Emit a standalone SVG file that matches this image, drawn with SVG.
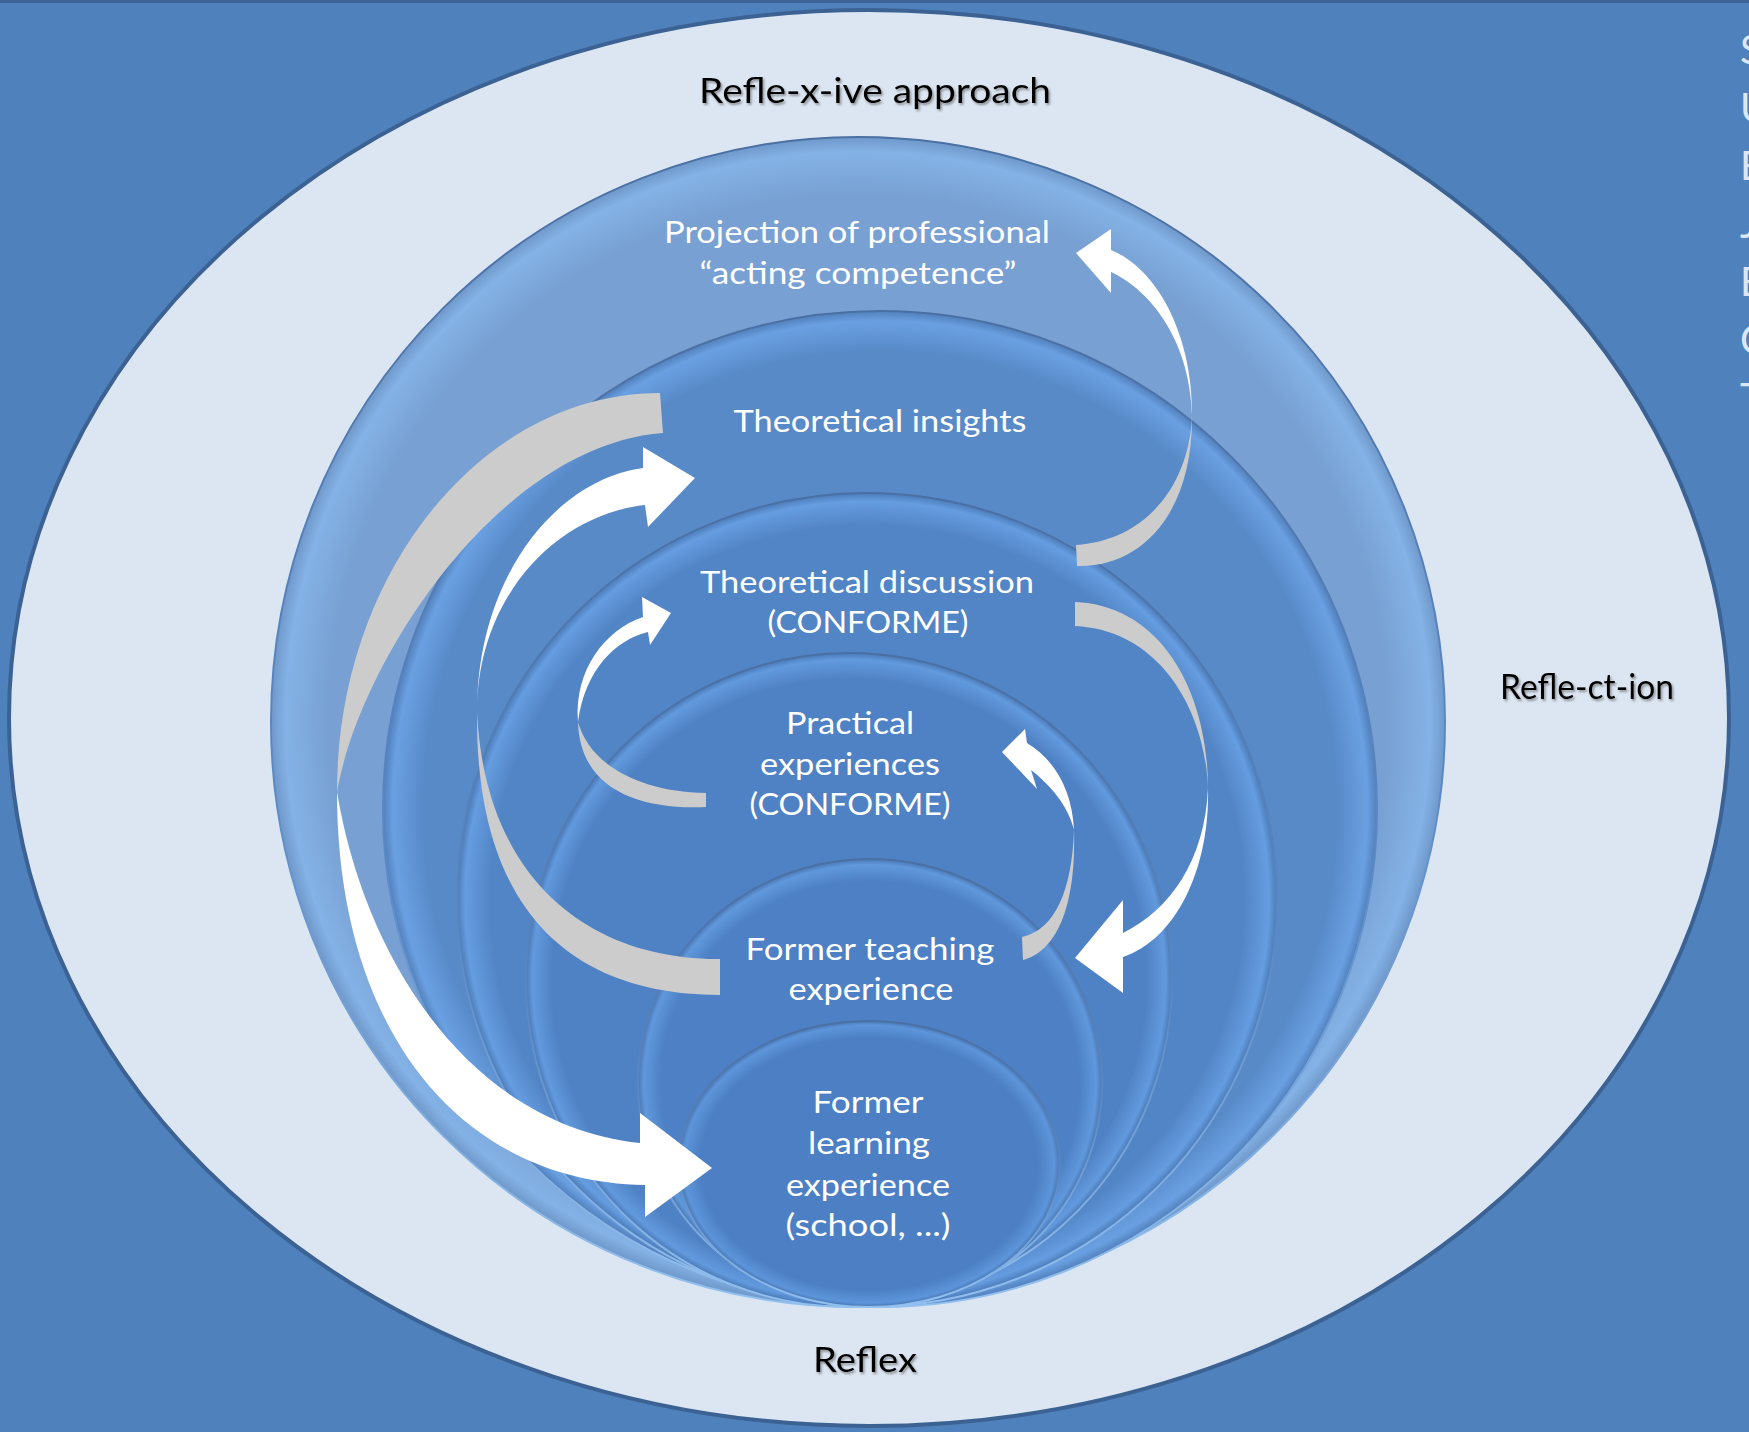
<svg xmlns="http://www.w3.org/2000/svg" width="1749" height="1432" viewBox="0 0 1749 1432">
<defs>
<style>
.wt{font-family:Lato,"Open Sans","DejaVu Sans",sans-serif;font-size:31px;fill:#ffffff;text-anchor:middle}
.bt{font-family:Lato,"Open Sans","DejaVu Sans",sans-serif;font-size:35px;fill:#000000;text-anchor:middle;filter:url(#tsh)}
.edge{font-family:Lato,"Open Sans","DejaVu Sans",sans-serif;font-size:40px;fill:#dce6f2}
.ring{stroke:url(#rimStroke);stroke-width:2}
.grey{fill:#cccccc}
.white{fill:#ffffff}
</style>
<filter id="tsh" x="-10%" y="-30%" width="120%" height="160%">
<feDropShadow dx="1.5" dy="2" stdDeviation="1.3" flood-color="#4a4a4a" flood-opacity="0.55"/>
</filter>
<linearGradient id="rimStroke" x1="0" y1="0" x2="0" y2="1">
<stop offset="0" stop-color="#4a6fa3"/>
<stop offset="0.55" stop-color="#5b89c4"/>
<stop offset="1" stop-color="#92c0ef"/>
</linearGradient>
<radialGradient id="gProj" cx="0.5" cy="0.5" r="0.5">
<stop offset="0" stop-color="#7aa1d3"/>
<stop offset="0.9" stop-color="#78a0d2"/>
<stop offset="0.975" stop-color="#84b2e6"/>
<stop offset="1" stop-color="#6f98ca"/>
</radialGradient>
<radialGradient id="gIns" cx="0.5" cy="0.5" r="0.5">
<stop offset="0" stop-color="#588ac8"/>
<stop offset="0.92" stop-color="#588ac8"/>
<stop offset="0.98" stop-color="#6aa0e2"/>
<stop offset="1" stop-color="#5280bb"/>
</radialGradient>
<radialGradient id="gDisc" cx="0.5" cy="0.5" r="0.5">
<stop offset="0" stop-color="#5285c6"/>
<stop offset="0.92" stop-color="#5285c6"/>
<stop offset="0.98" stop-color="#659de0"/>
<stop offset="1" stop-color="#4c7bb8"/>
</radialGradient>
<radialGradient id="gPrac" cx="0.5" cy="0.5" r="0.5">
<stop offset="0" stop-color="#4f82c4"/>
<stop offset="0.92" stop-color="#4f82c4"/>
<stop offset="0.98" stop-color="#629ade"/>
<stop offset="1" stop-color="#4a79b6"/>
</radialGradient>
<radialGradient id="gTeach" cx="0.5" cy="0.5" r="0.5">
<stop offset="0" stop-color="#4d80c4"/>
<stop offset="0.9" stop-color="#4d80c4"/>
<stop offset="0.975" stop-color="#6098dc"/>
<stop offset="1" stop-color="#4977b4"/>
</radialGradient>
<radialGradient id="gLearn" cx="0.5" cy="0.5" r="0.5">
<stop offset="0" stop-color="#4c7fc3"/>
<stop offset="0.88" stop-color="#4c7fc3"/>
<stop offset="0.97" stop-color="#5d95da"/>
<stop offset="1" stop-color="#4876b3"/>
</radialGradient>
</defs>

<rect x="0" y="0" width="1749" height="1432" fill="#4f81bd"/>
<rect x="0" y="0" width="1749" height="3" fill="#3d6597"/>

<g id="node-reflexive-approach">
<ellipse cx="869" cy="718" rx="860" ry="708" fill="#dce6f2" stroke="#3b6293" stroke-width="4"/>
<text class="bt" x="875" y="103" textLength="352" lengthAdjust="spacingAndGlyphs">Refle-x-ive approach</text>
<text class="bt" x="1587" y="699" textLength="174" lengthAdjust="spacingAndGlyphs">Refle-ct-ion</text>
<text class="bt" x="865" y="1372" textLength="104" lengthAdjust="spacingAndGlyphs">Reflex</text>
</g>

<g id="node-projection">
<ellipse class="ring" cx="858" cy="722" rx="587" ry="585" fill="url(#gProj)"/>
<text class="wt" x="857" y="243" textLength="386" lengthAdjust="spacingAndGlyphs">Projection of professional</text>
<text class="wt" x="858" y="284" textLength="317" lengthAdjust="spacingAndGlyphs">“acting competence”</text>
</g>

<g id="node-theoretical-insights">
<ellipse class="ring" cx="880" cy="809" rx="497" ry="498" fill="url(#gIns)"/>
<text class="wt" x="880" y="432" textLength="293" lengthAdjust="spacingAndGlyphs">Theoretical insights</text>
</g>

<g id="node-theoretical-discussion">
<ellipse class="ring" cx="867" cy="900" rx="410" ry="407" fill="url(#gDisc)"/>
<text class="wt" x="867" y="593" textLength="334" lengthAdjust="spacingAndGlyphs">Theoretical discussion</text>
<text class="wt" x="868" y="633" textLength="201" lengthAdjust="spacingAndGlyphs">(CONFORME)</text>
</g>

<g id="node-practical-experiences">
<ellipse class="ring" cx="849" cy="980" rx="323" ry="327" fill="url(#gPrac)"/>
<text class="wt" x="850" y="734" textLength="128" lengthAdjust="spacingAndGlyphs">Practical</text>
<text class="wt" x="850" y="775" textLength="180" lengthAdjust="spacingAndGlyphs">experiences</text>
<text class="wt" x="850" y="815" textLength="201" lengthAdjust="spacingAndGlyphs">(CONFORME)</text>
</g>

<g id="node-former-teaching">
<ellipse class="ring" cx="870" cy="1083" rx="232" ry="224" fill="url(#gTeach)"/>
<text class="wt" x="870" y="960" textLength="249" lengthAdjust="spacingAndGlyphs">Former teaching</text>
<text class="wt" x="871" y="1000" textLength="165" lengthAdjust="spacingAndGlyphs">experience</text>
</g>

<g id="node-former-learning">
<ellipse class="ring" cx="869" cy="1164" rx="191" ry="143" fill="url(#gLearn)"/>
<text class="wt" x="868" y="1113" textLength="111" lengthAdjust="spacingAndGlyphs">Former</text>
<text class="wt" x="869" y="1154" textLength="122" lengthAdjust="spacingAndGlyphs">learning</text>
<text class="wt" x="868" y="1196" textLength="164" lengthAdjust="spacingAndGlyphs">experience</text>
<text class="wt" x="868" y="1236" textLength="165" lengthAdjust="spacingAndGlyphs">(school, ...)</text>
</g>

<g id="connectors">
<path class="grey" d="M660,393 C482,393 337,573 337,792 C360,660 500,445 663,433 Z"/>
<path class="white" d="M337,792 C337,1030 460,1182 645,1185 L645,1217 L712,1168 L640,1113 L640,1143 C470,1125 365,960 337,792 Z"/>
<path class="grey" d="M720,995 C590,995 475,930 477,712 C485,880 590,960 720,959 Z"/>
<path class="white" d="M477,712 C477,578 555,480 643,468 L643,447 L695,478 L648,527 L645,505 C555,515 477,598 477,712 Z"/>
<path class="grey" d="M706,807 C640,810 580,790 578,722 C590,765 640,792 706,793 Z"/>
<path class="white" d="M578,722 C574,670 605,630 643,617 L642,597 L671,613 L650,645 L648,632 C615,640 585,670 578,722 Z"/>
<path class="grey" d="M1077,566 C1140,568 1193,515 1192,415 C1190,480 1150,540 1076,545 Z"/>
<path class="white" d="M1192,415 C1193,340 1160,270 1111,250 L1111,229 L1076,253 L1111,293 L1111,272 C1150,290 1190,340 1192,415 Z"/>
<path class="grey" d="M1075,602 C1160,605 1208,690 1208,788 C1205,710 1160,630 1075,626 Z"/>
<path class="white" d="M1208,788 C1210,870 1175,940 1123,957 L1123,993 L1075,958 L1123,900 L1123,933 C1170,910 1205,860 1208,788 Z"/>
<path class="grey" d="M1023,960 C1060,950 1076,900 1074,830 C1072,890 1055,930 1022,937 Z"/>
<path class="white" d="M1074,830 C1072,790 1055,760 1027,743 L1025,729 L1002,752 L1037,789 L1031,770 C1050,785 1068,805 1074,830 Z"/>
</g>

<g id="edge-text">
<text class="edge" x="1740" y="64">S</text>
<text class="edge" x="1740" y="122">U</text>
<text class="edge" x="1740" y="180">E</text>
<text class="edge" x="1740" y="238">J</text>
<text class="edge" x="1740" y="296">E</text>
<text class="edge" x="1740" y="354">C</text>
<text class="edge" x="1740" y="412">T</text>
</g>
</svg>
